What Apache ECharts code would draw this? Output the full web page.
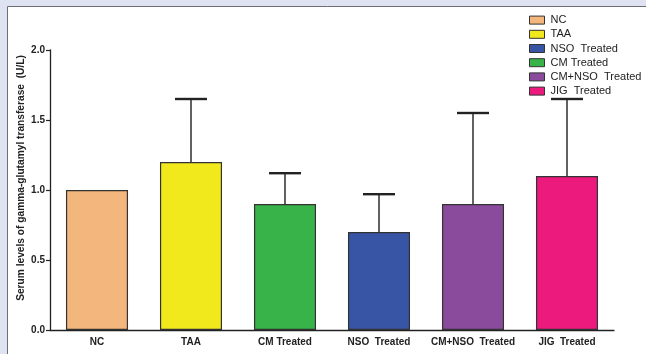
<!DOCTYPE html>
<html>
<head>
<meta charset="utf-8">
<style>
  html, body { margin: 0; padding: 0; background: #dfe3f1; }
  #chart { width: 646px; height: 354px; }
</style>
<script src="https://cdn.jsdelivr.net/npm/echarts@6/dist/echarts.min.js"></script>
</head>
<body>
<div id="chart"></div>
<script>
// Serum gamma-glutamyl transferase by group (mean with upper SD bar)
const categories = ['NC', 'TAA', 'CM Treated', 'NSO  Treated', 'CM+NSO  Treated', 'JIG  Treated'];
const meanValues = [1.0, 1.2, 0.9, 0.7, 0.9, 1.1];
const errorValues = [0, 0.45, 0.22, 0.27, 0.65, 0.55];
const barColors = ['#f3b77d', '#f2e91c', '#37b34a', '#3855a5', '#8a4b9c', '#ed1a7e'];
const legendOrder = ['NC', 'TAA', 'NSO  Treated', 'CM Treated', 'CM+NSO  Treated', 'JIG  Treated'];
const yTicks = { min: 0, max: 2, interval: 0.5 };
const yTitle = 'Serum levels of gamma-glutamyl transferase  (U/L)';

const font = '"Liberation Sans", Arial, Helvetica, sans-serif';
const axisColor = '#222';

const barSeries = categories.map((name, i) => ({
  name: name,
  type: 'bar',
  stack: 'groups',
  barWidth: '66%',
  itemStyle: { color: barColors[i], borderColor: '#333', borderWidth: 1.2 },
  data: categories.map((_, j) => (j === i ? meanValues[i] : '-')),
  z: 2
}));

const errorSeries = {
  type: 'custom',
  name: 'error',
  z: 5,
  data: categories.map((_, i) => [i, meanValues[i], meanValues[i] + errorValues[i]]),
  renderItem: function (params, api) {
    const x = api.value(0);
    const lo = api.value(1);
    const hi = api.value(2);
    if (hi <= lo) return null;
    const pLo = api.coord([x, lo]);
    const pHi = api.coord([x, hi]);
    const half = api.size([1, 0])[0] * 0.17;
    return {
      type: 'group',
      children: [
        {
          type: 'line',
          shape: { x1: pLo[0], y1: pLo[1], x2: pHi[0], y2: pHi[1] },
          style: { stroke: '#3a3a3a', lineWidth: 1.6 }
        },
        {
          type: 'line',
          shape: { x1: pHi[0] - half, y1: pHi[1], x2: pHi[0] + half, y2: pHi[1] },
          style: { stroke: '#222', lineWidth: 2.4 }
        }
      ]
    };
  }
};

const chart = echarts.init(document.getElementById('chart'), null, { renderer: 'canvas' });
chart.setOption({
  backgroundColor: '#dfe3f1',
  animation: false,
  graphic: [{
    type: 'rect',
    left: 7, top: 6,
    shape: { width: 660, height: 360 },
    style: { fill: '#ffffff', stroke: '#6d6d78', lineWidth: 1 },
    z: -10
  }],
  legend: {
    orient: 'vertical',
    left: 524,
    top: 8,
    itemWidth: 15,
    itemHeight: 8,
    itemGap: 0,
    icon: 'rect',
    data: legendOrder,
    itemStyle: { borderColor: '#333', borderWidth: 1 },
    textStyle: { fontFamily: font, fontSize: 11, color: '#222', lineHeight: 14.2, padding: [0, 0, 0, 1] },
    selectedMode: false
  },
  grid: { left: 50, right: 32, top: 50, bottom: 24, containLabel: false },
  xAxis: {
    type: 'category',
    data: categories,
    axisLine: { lineStyle: { color: axisColor, width: 1.3 } },
    axisTick: { alignWithLabel: true, length: 4, lineStyle: { color: axisColor, width: 1.2 } },
    axisLabel: { fontFamily: font, fontWeight: 'bold', fontSize: 10, color: '#222', margin: 7, interval: 0 }
  },
  yAxis: {
    type: 'value',
    min: yTicks.min,
    max: yTicks.max,
    interval: yTicks.interval,
    name: yTitle,
    nameLocation: 'middle',
    nameGap: 24,
    nameMoveOverlap: false,
    nameRotate: 90,
    nameTextStyle: { fontFamily: font, fontWeight: 'bold', fontSize: 10.2, color: '#222', padding: [0, 0, 0, 24] },
    axisLine: { show: true, lineStyle: { color: axisColor, width: 1.3 } },
    axisTick: { show: true, length: 4, lineStyle: { color: axisColor, width: 1.2 } },
    splitLine: { show: false },
    axisLabel: { fontFamily: font, fontWeight: 'bold', fontSize: 10, color: '#222', margin: 5,
      formatter: v => v.toFixed(1) }
  },
  series: barSeries.concat([errorSeries])
});
</script>
</body>
</html>
